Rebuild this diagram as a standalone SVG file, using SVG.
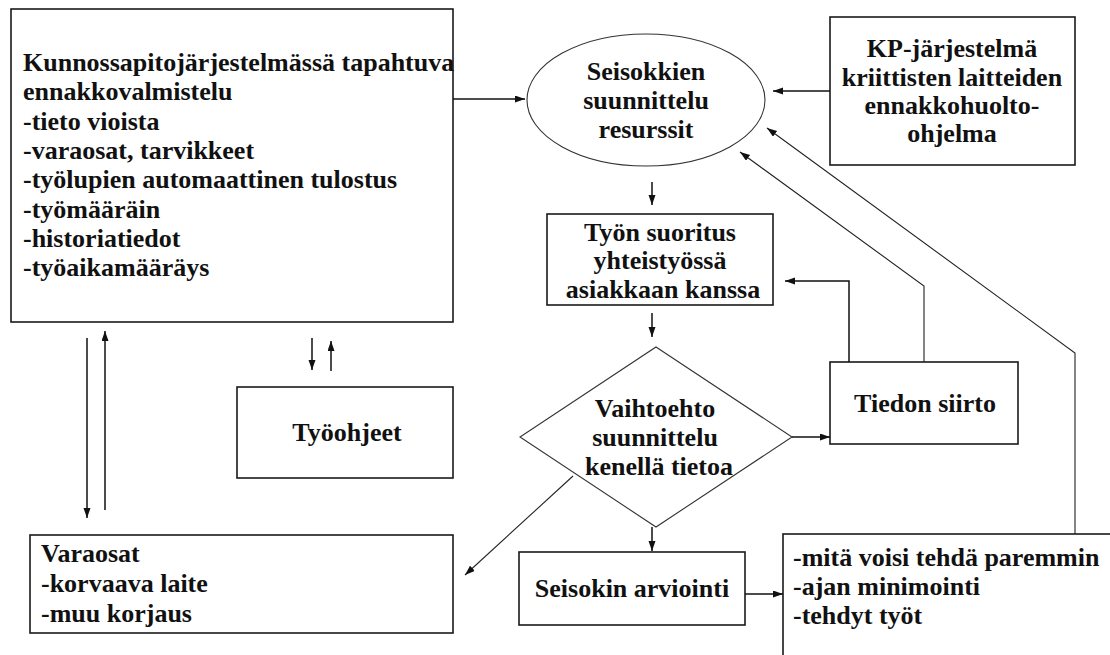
<svg xmlns="http://www.w3.org/2000/svg" width="1110" height="655" viewBox="0 0 1110 655">
<style>
.box{fill:#fff;stroke:#1a1a1a;stroke-width:1.6}
.thin{fill:#fff;stroke:#333;stroke-width:1.1}
.t{font-family:"Liberation Serif","Times New Roman",serif;font-weight:bold;font-size:26px;fill:#111}
.c{text-anchor:middle}
.ln{fill:none;stroke:#111;stroke-width:1.5}
.ln2{fill:none;stroke:#222;stroke-width:1.1}
</style>
<defs>
<marker id="ah" markerUnits="userSpaceOnUse" markerWidth="12" markerHeight="10" refX="10" refY="3.5" orient="auto">
<path d="M0,0 L10,3.5 L0,7 Z" fill="#111"/>
</marker>
</defs>
<rect width="1110" height="655" fill="#fff"/>

<g id="kunnossapito">
<rect class="box" x="11" y="9" width="442" height="313"/>
<text class="t" x="23" y="71">Kunnossapitojärjestelmässä tapahtuva</text>
<text class="t" x="23" y="100.3">ennakkovalmistelu</text>
<text class="t" x="23" y="129.6">-tieto vioista</text>
<text class="t" x="23" y="158.9">-varaosat, tarvikkeet</text>
<text class="t" x="23" y="188.2">-työlupien automaattinen tulostus</text>
<text class="t" x="23" y="217.5">-työmääräin</text>
<text class="t" x="23" y="246.8">-historiatiedot</text>
<text class="t" x="23" y="276.1">-työaikamääräys</text>
</g>

<g id="seisokkien">
<ellipse class="thin" cx="646" cy="100" rx="119" ry="66"/>
<text class="t c" x="646" y="80">Seisokkien</text>
<text class="t c" x="646" y="109">suunnittelu</text>
<text class="t c" x="646" y="138">resurssit</text>
</g>

<g id="kp">
<rect class="box" x="830" y="17" width="245" height="148"/>
<text class="t c" x="952" y="57">KP-järjestelmä</text>
<text class="t c" x="952" y="86">kriittisten laitteiden</text>
<text class="t c" x="952" y="114">ennakkohuolto-</text>
<text class="t c" x="952" y="142">ohjelma</text>
</g>

<g id="tyon-suoritus">
<rect class="box" x="547" y="214" width="226" height="91"/>
<text class="t c" x="660" y="241">Työn suoritus</text>
<text class="t c" x="660" y="269">yhteistyössä</text>
<text class="t c" x="663" y="298">asiakkaan kanssa</text>
</g>

<g id="vaihtoehto">
<polygon class="thin" points="656,347 792,437 656,527 520,437"/>
<text class="t c" x="655" y="417">Vaihtoehto</text>
<text class="t c" x="655" y="446">suunnittelu</text>
<text class="t c" x="659" y="475">kenellä tietoa</text>
</g>

<g id="tiedon-siirto">
<rect class="box" x="830" y="362" width="188" height="82"/>
<text class="t c" x="925" y="412">Tiedon siirto</text>
</g>

<g id="seisokin-arviointi">
<rect class="box" x="519" y="552" width="226" height="73"/>
<text class="t c" x="632" y="597">Seisokin arviointi</text>
</g>

<g id="parannukset">
<rect class="box" x="783" y="534" width="340" height="140"/>
<text class="t" x="793" y="566">-mitä voisi tehdä paremmin</text>
<text class="t" x="793" y="595">-ajan minimointi</text>
<text class="t" x="793" y="624">-tehdyt työt</text>
</g>

<g id="tyoohjeet">
<rect class="box" x="237" y="387" width="216" height="91"/>
<text class="t c" x="347" y="441">Työohjeet</text>
</g>

<g id="varaosat">
<rect class="box" x="30" y="535" width="423" height="98"/>
<text class="t" x="41" y="562">Varaosat</text>
<text class="t" x="41" y="592">-korvaava laite</text>
<text class="t" x="41" y="622">-muu korjaus</text>
</g>

<g id="connectors">
<line class="ln" x1="453" y1="99" x2="525" y2="99" marker-end="url(#ah)"/>
<line class="ln" x1="830" y1="91" x2="773" y2="91" marker-end="url(#ah)"/>
<line class="ln" x1="652" y1="182" x2="652" y2="205" marker-end="url(#ah)"/>
<line class="ln" x1="652" y1="313" x2="652" y2="337" marker-end="url(#ah)"/>
<line class="ln" x1="792" y1="437" x2="830" y2="437" marker-end="url(#ah)"/>
<line class="ln" x1="652" y1="527" x2="652" y2="551" marker-end="url(#ah)"/>
<line class="ln" x1="745" y1="594" x2="783" y2="594" marker-end="url(#ah)"/>
<polyline class="ln" points="849,362 849,281 785,281" marker-end="url(#ah)"/>
<polyline class="ln2" points="924,362 924,286 740,152" marker-end="url(#ah)"/>
<polyline class="ln2" points="1075,534 1075,353 767,128" marker-end="url(#ah)"/>
<line class="ln2" x1="573" y1="476" x2="465" y2="575" marker-end="url(#ah)"/>
<line class="ln" x1="87" y1="338" x2="87" y2="518" marker-end="url(#ah)"/>
<line class="ln" x1="105" y1="510" x2="105" y2="331" marker-end="url(#ah)"/>
<line class="ln" x1="312" y1="338" x2="312" y2="370" marker-end="url(#ah)"/>
<line class="ln" x1="331" y1="371" x2="331" y2="341" marker-end="url(#ah)"/>
</g>
</svg>
